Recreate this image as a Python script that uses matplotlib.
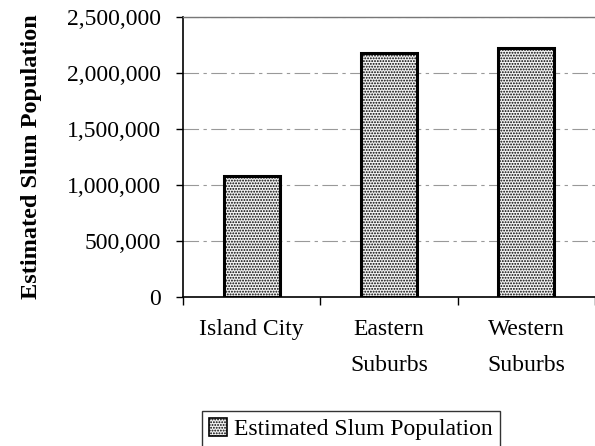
import numpy as np
import matplotlib.pyplot as plt
from matplotlib.ticker import FuncFormatter

regioes = ['Island City', 'Eastern\nSuburbs', 'Western\nSuburbs']
populacao = [1080000, 2175000, 2225000]
serie = 'Estimated Slum Population'

plt.rcParams['font.family'] = ['Liberation Serif', 'DejaVu Serif']
plt.rcParams['hatch.color'] = '#555555'
plt.rcParams['hatch.linewidth'] = 0.9

fig = plt.figure(figsize=(5.95, 4.46), dpi=100)
ax = fig.add_axes([0.3076, 0.334, 0.6924, 0.628])

x = np.arange(len(regioes))
ax.bar(x, populacao, width=0.41, color='#f2f2f2', edgecolor='black',
       linewidth=2.2, hatch='......', label=serie, zorder=3)

ax.set_ylim(0, 2500000)
ax.set_xlim(-0.5, 2.464)
ax.set_yticks(np.arange(0, 2500001, 500000))
ax.yaxis.set_major_formatter(FuncFormatter(lambda v, p: f'{int(v):,}'))
ax.set_xticks(x)
ax.set_xticklabels(regioes, fontsize=17, linespacing=1.95, va='top')
ax.set_xticks([-0.5, 0.5, 1.5, 2.5], minor=True)
ax.tick_params(axis='x', which='major', length=0, pad=16)
ax.tick_params(axis='x', which='minor', length=6, width=1, direction='out')
ax.tick_params(axis='y', labelsize=17, length=5, width=1, pad=11)

ax.grid(axis='y', color='#999999', lw=0.8, ls=(0, (14, 4, 3, 4)), zorder=0)
ax.spines['right'].set_visible(False)
ax.spines['top'].set_color('#777777')
ax.spines['top'].set_linewidth(1.0)
ax.spines['left'].set_linewidth(1.2)
ax.spines['bottom'].set_linewidth(1.2)

ax.set_ylabel(serie, fontsize=17.5, fontweight='bold')
ax.yaxis.set_label_coords(-0.342, 0.5)

leg = fig.legend(loc='upper center', bbox_to_anchor=(0.59, 0.078), fontsize=17,
                 frameon=True, fancybox=False, edgecolor='black',
                 handlelength=0.75, handleheight=0.75, handletextpad=0.3,
                 borderpad=0.3, borderaxespad=0)
leg.get_frame().set_linewidth(1.0)
for h in leg.legend_handles:
    h.set_linewidth(1.2)

fig.savefig('out.png', dpi=100)
